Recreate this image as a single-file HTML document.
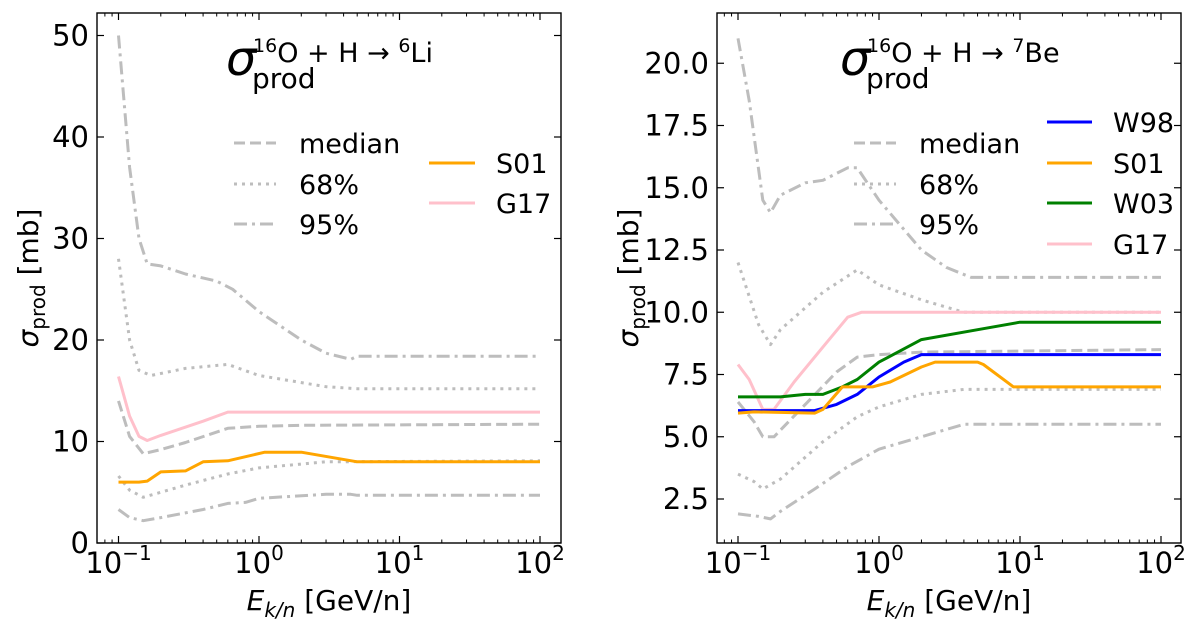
<!DOCTYPE html>
<html><head><meta charset="utf-8"><style>
body{margin:0;background:#fff}
svg{display:block;font-family:"DejaVu Sans","Liberation Sans",sans-serif}
</style></head><body>
<svg id="c" width="1200" height="632"></svg>
<script>
// ---- data ----
const L_up95_x=[0.1,0.12,0.14,0.16,0.2,0.3,0.5,0.65,1,2,3,4.5,5,100];
const L_up95_y=[50,37,30,27.5,27.3,26.5,25.8,25,22.8,20,18.7,18.1,18.4,18.4];
const L_up68_x=[0.1,0.12,0.14,0.17,0.3,0.6,1,3,5,100];
const L_up68_y=[28,20,17,16.5,17.2,17.6,16.5,15.4,15.2,15.2];
const L_med_x=[0.1,0.12,0.15,0.2,0.3,0.6,1,2,100];
const L_med_y=[14,10.5,8.8,9.2,9.9,11.3,11.5,11.6,11.7];
const L_lo68_x=[0.1,0.12,0.15,0.2,0.3,0.6,1,3,100];
const L_lo68_y=[6.6,5.2,4.5,5,5.7,6.8,7.4,8,8.1];
const L_lo95_x=[0.1,0.12,0.15,0.2,0.4,0.6,0.8,1,3,4.5,5,100];
const L_lo95_y=[3.3,2.5,2.2,2.5,3.3,3.9,4,4.4,4.8,4.8,4.7,4.7];
const L_G17_x=[0.1,0.12,0.14,0.16,0.2,0.4,0.6,1,100];
const L_G17_y=[16.4,12.5,10.5,10.1,10.6,12,12.9,12.9,12.9];
const L_S01_x=[0.1,0.14,0.16,0.2,0.3,0.4,0.6,1.1,2,5,100];
const L_S01_y=[6,6,6.1,7,7.1,8,8.1,8.95,8.95,8,8];

const R_up95_x=[0.1,0.12,0.15,0.17,0.2,0.3,0.4,0.6,0.7,1,2,3,4.5,100];
const R_up95_y=[21,18.5,14.5,14,14.7,15.2,15.3,15.8,15.8,14.5,12.5,11.8,11.4,11.4];
const R_up68_x=[0.1,0.14,0.17,0.2,0.4,0.7,1,2,4,100];
const R_up68_y=[12,9.5,8.7,9.3,10.8,11.7,11.1,10.5,10,10];
const R_med_x=[0.1,0.13,0.15,0.18,0.3,0.5,0.7,1,2,100];
const R_med_y=[6.4,5.6,5,5,6.3,7.6,8.2,8.3,8.4,8.5];
const R_lo68_x=[0.1,0.13,0.15,0.2,0.4,0.7,1,2,4,100];
const R_lo68_y=[3.5,3.2,2.9,3.3,4.8,5.8,6.2,6.7,6.9,6.9];
const R_lo95_x=[0.1,0.14,0.17,0.2,0.35,0.6,1,2,4,100];
const R_lo95_y=[1.9,1.8,1.7,2,2.9,3.8,4.5,5,5.5,5.5];
const R_G17_x=[0.1,0.12,0.15,0.18,0.25,0.4,0.6,0.75,100];
const R_G17_y=[7.9,7.3,6.1,6.1,7.2,8.6,9.8,10,10];
const R_W98_x=[0.1,0.35,0.5,0.7,1,1.5,2,100];
const R_W98_y=[6.05,6.05,6.3,6.7,7.4,8,8.3,8.3];
const R_S01_x=[0.1,0.13,0.35,0.4,0.55,0.9,1.2,2,2.5,5,5.5,9,100];
const R_S01_y=[5.95,6,5.95,6.1,7,7,7.2,7.8,8,8,7.9,7,7];
const R_W03_x=[0.1,0.2,0.3,0.4,0.55,0.7,1,2,5,10,100];
const R_W03_y=[6.6,6.6,6.7,6.7,7,7.3,8,8.9,9.3,9.6,9.6];

const L_yticks=[0,10,20,30,40,50];
const L_ylabels=["0","10","20","30","40","50"];
const R_yticks=[2.5,5,7.5,10,12.5,15,17.5,20];
const R_ylabels=["2.5","5.0","7.5","10.0","12.5","15.0","17.5","20.0"];
const xdecades=[-1,0,1,2];

const NS="http://www.w3.org/2000/svg";
const svg=document.getElementById('c');
function mk(t,a,p){const e=document.createElementNS(NS,t);for(const k in a)e.setAttribute(k,a[k]);(p||svg).appendChild(e);return e;}
const GRAY="#bdbdbd";
const styles={dash:"11,5",dot:"3,5",dashdot:"13,5,3,5"};

function panel(P){
  const g=mk('g',{});
  
  
  const X=v=>P.x0+(Math.log10(v)+1)*P.dx;
  const Y=v=>P.y0-(v-P.v0)*P.dy;
  const L=P.fl,R=P.fr,T=13,B=543;
  P.series.forEach(s=>{
    let d=s.x.map((v,i)=>(i?'L':'M')+X(v).toFixed(1)+','+Y(s.y[i]).toFixed(1)).join('');
    const p=mk('path',{d:d,fill:'none',stroke:s.c,'stroke-width':3,'stroke-dasharray':s.da||'none','stroke-linejoin':'round'},g);
    
    
  });
  const f=mk('rect',{x:L,y:T,width:R-L,height:B-T,fill:'none',stroke:'#000','stroke-width':1.4},g);
  
  
  xdecades.forEach(k=>{
    const x=P.x0+(k+1)*P.dx;
    mk('line',{x1:x,x2:x,y1:B,y2:B-7,stroke:'#000','stroke-width':1.2},g);
    mk('line',{x1:x,x2:x,y1:T,y2:T+7,stroke:'#000','stroke-width':1.2},g);
    const t=mk('text',{x:x,y:B+30,'font-size':29,'text-anchor':'middle'},g);
    
    
    t.innerHTML='10<tspan dy="-13" font-size="20">'+(k<0?'\u2212'+(-k):k)+'</tspan>';
    if(k<2){for(let m=2;m<10;m++){const xm=x+Math.log10(m)*P.dx;
      mk('line',{x1:xm,x2:xm,y1:B,y2:B-3.5,stroke:'#000','stroke-width':1},g);
      mk('line',{x1:xm,x2:xm,y1:T,y2:T+3.5,stroke:'#000','stroke-width':1},g);}}
  });
  [0.07,0.08,0.09].forEach(v=>{const xm=X(v);if(xm>L){mk('line',{x1:xm,x2:xm,y1:B,y2:B-3.5,stroke:'#000'},g);mk('line',{x1:xm,x2:xm,y1:T,y2:T+3.5,stroke:'#000'},g);}});
  P.yt.forEach((v,i)=>{
    const y=Y(v);
    mk('line',{x1:L,x2:L+7,y1:y,y2:y,stroke:'#000','stroke-width':1.2},g);
    mk('line',{x1:R,x2:R-7,y1:y,y2:y,stroke:'#000','stroke-width':1.2},g);
    const t=mk('text',{x:L-8,y:y+10,'font-size':29,'text-anchor':'end'},g);
    
    
    t.textContent=P.yl[i];
  });
  const xl=mk('text',{x:(L+R)/2,y:610,'font-size':28,'text-anchor':'middle'},g);
  
  
  xl.innerHTML='<tspan font-style="italic">E</tspan><tspan font-style="italic" font-size="20" dy="7">k/n</tspan><tspan dy="-7"> [GeV/n]</tspan>';
  const yl=mk('text',{transform:'translate('+P.ylx+',278) rotate(-90)','font-size':28,'text-anchor':'middle'},g);
  
  
  yl.innerHTML='<tspan font-style="italic">σ</tspan><tspan font-size="20" dy="7">prod</tspan><tspan dy="-7"> [mb]</tspan>';
  const tg=mk('g',{},g);
  
  
  const s=mk('text',{x:P.tx,y:75,'font-size':48,'font-style':'italic'},tg);s.textContent='σ';
  const sp=mk('text',{x:P.tx+27,y:62,'font-size':27},tg);
  sp.innerHTML='<tspan font-size="19" dy="-10">16</tspan><tspan dy="10">O + H → </tspan><tspan font-size="19" dy="-10">'+P.iso[0]+'</tspan><tspan dy="10">'+P.iso[1]+'</tspan>';
  const sb=mk('text',{x:P.tx+26,y:88,'font-size':28},tg);sb.textContent='prod';
  P.leg.forEach(l=>{
    const lg=mk('g',{},g);
    
    
    mk('line',{x1:l.x,x2:l.x+l.w,y1:l.y,y2:l.y,stroke:l.c,'stroke-width':3,'stroke-dasharray':l.da||'none'},lg);
    const t=mk('text',{x:l.tx,y:l.y+10,'font-size':27},lg);
    t.textContent=l.t;
  });
}

const g1=[{x:L_up95_x,y:L_up95_y,c:GRAY,da:styles.dashdot,n:'band-95-upper'},
 {x:L_lo95_x,y:L_lo95_y,c:GRAY,da:styles.dashdot,n:'band-95-lower'},
 {x:L_up68_x,y:L_up68_y,c:GRAY,da:styles.dot,n:'band-68-upper'},
 {x:L_lo68_x,y:L_lo68_y,c:GRAY,da:styles.dot,n:'band-68-lower'},
 {x:L_med_x,y:L_med_y,c:GRAY,da:styles.dash,n:'median-line'},
 {x:L_G17_x,y:L_G17_y,c:'#ffc0cb',n:'g17-line'},
 {x:L_S01_x,y:L_S01_y,c:'#ffa500',n:'s01-line'}];
panel({name:'panel-li6',x0:118.5,dx:140.5,y0:543,v0:0,dy:10.15,fl:97,fr:561,yt:L_yticks,yl:L_ylabels,ylx:38,tx:226,iso:['6','Li'],
 series:g1,
 leg:[{x:234,w:42,y:143,c:GRAY,da:styles.dash,tx:299,t:'median'},
      {x:234,w:42,y:184,c:GRAY,da:styles.dot,tx:299,t:'68%'},
      {x:234,w:42,y:224,c:GRAY,da:styles.dashdot,tx:299,t:'95%'},
      {x:429,w:46,y:163,c:'#ffa500',tx:496,t:'S01'},
      {x:429,w:46,y:203,c:'#ffc0cb',tx:496,t:'G17'}]});

const g2=[{x:R_up95_x,y:R_up95_y,c:GRAY,da:styles.dashdot,n:'band-95-upper'},
 {x:R_lo95_x,y:R_lo95_y,c:GRAY,da:styles.dashdot,n:'band-95-lower'},
 {x:R_up68_x,y:R_up68_y,c:GRAY,da:styles.dot,n:'band-68-upper'},
 {x:R_lo68_x,y:R_lo68_y,c:GRAY,da:styles.dot,n:'band-68-lower'},
 {x:R_med_x,y:R_med_y,c:GRAY,da:styles.dash,n:'median-line'},
 {x:R_G17_x,y:R_G17_y,c:'#ffc0cb',n:'g17-line'},
 {x:R_W98_x,y:R_W98_y,c:'#0000ff',n:'w98-line'},
 {x:R_W03_x,y:R_W03_y,c:'#008000',n:'w03-line'},
 {x:R_S01_x,y:R_S01_y,c:'#ffa500',n:'s01-line'}];
panel({name:'panel-be7',x0:738,dx:141,y0:499,v0:2.5,dy:24.9,fl:717,fr:1181,yt:R_yticks,yl:R_ylabels,ylx:638,tx:840,iso:['7','Be'],
 series:g2,
 leg:[{x:854,w:42,y:143,c:GRAY,da:styles.dash,tx:919,t:'median'},
      {x:854,w:42,y:184,c:GRAY,da:styles.dot,tx:919,t:'68%'},
      {x:854,w:42,y:224,c:GRAY,da:styles.dashdot,tx:919,t:'95%'},
      {x:1047,w:45,y:122,c:'#0000ff',tx:1113,t:'W98'},
      {x:1047,w:45,y:163,c:'#ffa500',tx:1113,t:'S01'},
      {x:1047,w:45,y:203,c:'#008000',tx:1113,t:'W03'},
      {x:1047,w:45,y:244,c:'#ffc0cb',tx:1113,t:'G17'}]});
</script>
</body></html>
